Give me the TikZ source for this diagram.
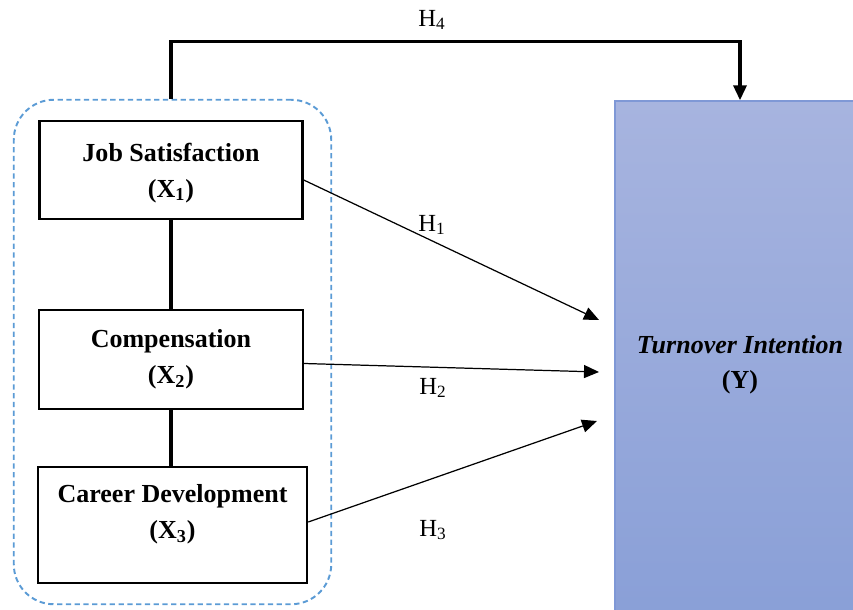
\documentclass[tikz,border=0pt]{standalone}
\usepackage{fontspec}
\setmainfont{Liberation Serif}
\usetikzlibrary{positioning,arrows.meta,fit}
\definecolor{grpblue}{HTML}{5B9BD5}
\definecolor{ytop}{HTML}{A7B4DF}
\definecolor{ybot}{HTML}{899FD7}
\definecolor{yedge}{HTML}{7F98D6}
\tikzset{
>={Triangle[length=0.3cm,width=0.26cm]}, % filled arrow heads
box/.style={draw, line width=1.4pt, minimum width=5.26cm, minimum height=1.96cm, align=center, font=\fontsize{14.8}{20.5}\selectfont\bfseries}, % the three variable boxes
group/.style={draw=grpblue, line width=1.1pt, dash pattern=on 3pt off 2pt, rounded corners=0.8cm, inner xsep=0.46cm, inner ysep=0.40cm}, % dashed frame round the boxes
ybox/.style={draw=yedge, line width=0.8pt, top color=ytop, bottom color=ybot, minimum width=5cm, minimum height=10.44cm, align=center, font=\fontsize{14.8}{20}\selectfont\bfseries}, % the dependent variable
link/.style={line width=2.3pt}, % thick lines between the boxes
hyp/.style={->, line width=0.7pt}, % thin hypothesis arrows
main/.style={->, line width=1.9pt}, % thick arrow on top
hlabel/.style={font=\fontsize{14}{16}\selectfont}, % hypothesis labels
}
\begin{document}
\begin{tikzpicture}
    \clip (0,0) rectangle (17.06,-12.18);
    \node[box, text depth=0pt] at (3.42,-3.40) (x1) {Job Satisfaction\\(X\textsubscript{1})};
    \node[box, minimum width=5.28cm, minimum height=1.98cm] at (3.42,-7.19) (x2) {Compensation\\(X\textsubscript{2})};
    \node[box, minimum width=5.38cm, minimum height=2.32cm, text depth=0.53cm] at (3.45,-10.50) (x3) {Career Development\\(X\textsubscript{3})};
    \node[group, fit=(x1)(x2)(x3)] (grp) {};
    \node[ybox, text depth=0pt] at (14.8,-7.24) (y) {\textit{Turnover Intention}\\(Y)};
    \coordinate (e1) at (11.98,-6.40);
    \coordinate (e2) at (11.98,-7.44);
    \coordinate (e3) at (11.94,-8.42);
    \node[hlabel] at (8.64,-0.40) (h4) {H\textsubscript{4}};
    \node[hlabel] at (8.64,-4.50) (h1) {H\textsubscript{1}};
    \node[hlabel] at (8.66,-7.76) (h2) {H\textsubscript{2}};
    \node[hlabel] at (8.66,-10.60) (h3) {H\textsubscript{3}};
    \draw[link] (x1.south) -- (x2.north)
        (x2.south) -- (x2.south |- x3.north);
    \draw[hyp] ([yshift=-0.2cm]x1.east) -- (e1);
    \draw[hyp] ([yshift=-0.08cm]x2.east) -- (e2);
    \draw[hyp] ([yshift=0.06cm]x3.east) -- (e3);
    \draw[main] (x1.north |- grp.north) -- ++(0,1.14) -| (y.north);
\end{tikzpicture}
\end{document}
